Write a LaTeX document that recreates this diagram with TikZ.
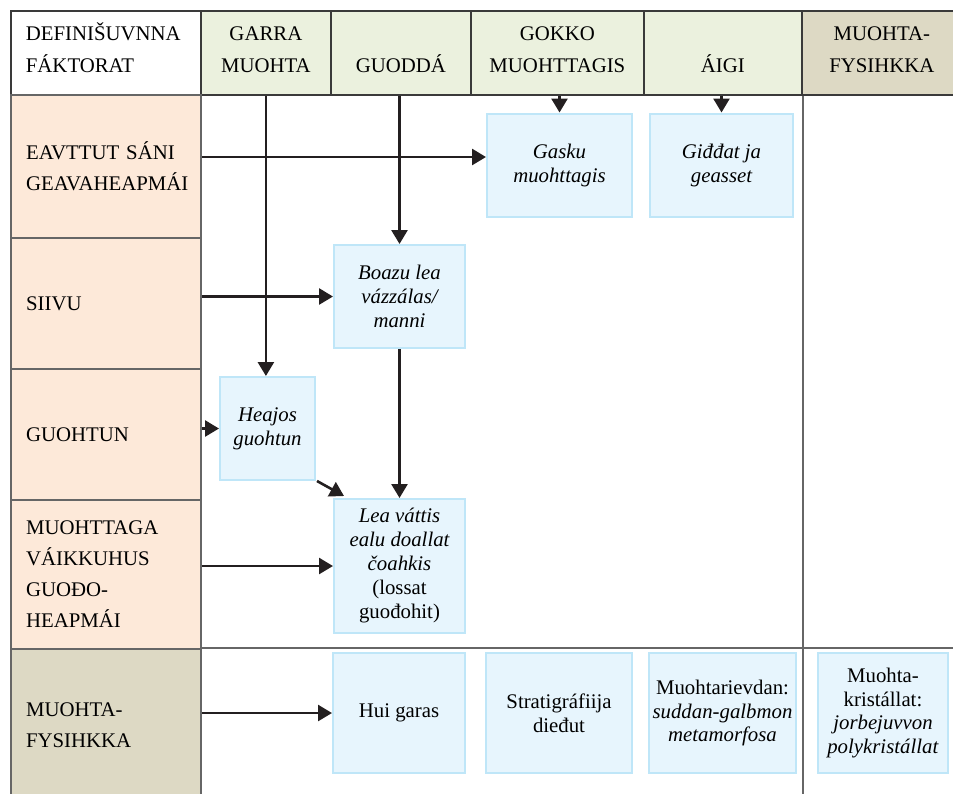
\documentclass[tikz,border=0pt]{standalone}
\usepackage{fontspec}
\setmainfont{Liberation Serif}
\usetikzlibrary{arrows.meta}
\definecolor{gridgray}{HTML}{666666}
\definecolor{headgray}{HTML}{3A3A3A}
\definecolor{peach}{HTML}{FDE9D9}
\definecolor{tan}{HTML}{DDD9C4}
\definecolor{headgreen}{HTML}{EBF1DE}
\definecolor{boxfill}{HTML}{E7F5FD}
\definecolor{boxline}{HTML}{BFE6F8}
\definecolor{arrowink}{HTML}{231F20}
\begin{document}
\begin{tikzpicture}[
        x=0.5pt,y=-0.5pt,
        cell/.style={draw=gridgray,line width=1.1pt,anchor=north west,inner sep=0pt},
        headcell/.style={cell,draw=headgray,line width=0.9pt,fill=headgreen,minimum height=42pt,align=center,
            text height=20pt,text depth=0pt,font=\fontsize{10.4}{16}\selectfont},
        rowcell/.style={cell,fill=peach,inner xsep=7.5pt,text width=80pt,align=left,
            font=\fontsize{10.4}{15.5}\selectfont},
        gridline/.style={draw=gridgray,line width=1.1pt},
        infobox/.style={draw=boxline,line width=1pt,fill=boxfill,align=center,inner sep=1pt,
            minimum height=51.5pt,font=\fontsize{10.4}{12}\selectfont\itshape},
        physbox/.style={infobox,minimum height=60pt,font=\fontsize{10.4}{11.8}\selectfont},
        arr/.style={draw=arrowink,line width=1.3pt,-{Triangle[length=7pt,width=8pt]}}
    ]
    \useasboundingbox (0,0) rectangle (953,793);

    \node [headcell,fill=white,minimum width=95pt,align=left,inner xsep=7.5pt,text width=80pt,
        text height=10pt,text depth=22pt] (hDef) at (10,10) {DEFINIŠUVNNA\\FÁKTORAT};
    \node [headcell,minimum width=65pt] (hGarra) at (200,10) {GARRA\\MUOHTA};
    \node [headcell,minimum width=70pt] (hGuodda) at (330,10) {GUODDÁ};
    \node [headcell,minimum width=86.5pt] (hGokko) at (470,10) {GOKKO\\MUOHTTAGIS};
    \node [headcell,minimum width=79pt] (hAigi) at (643,10) {ÁIGI};
    \node [headcell,fill=tan,minimum width=80pt] (hFys) at (801,10) {MUOHTA-\\FYSIHKKA};

    \node [rowcell,minimum height=71.5pt] (rEav) at (10,94) {EAVTTUT SÁNI\\GEAVAHEAPMÁI};
    \node [rowcell,minimum height=65.5pt] (rSiivu) at (10,237) {SIIVU};
    \node [rowcell,minimum height=65.5pt] (rGuoh) at (10,368) {GUOHTUN};
    \node [rowcell,minimum height=74.5pt] (rMuoh) at (10,499) {MUOHTTAGA\\VÁIKKUHUS\\GUOĐO-\\HEAPMÁI};
    \node [rowcell,fill=tan,minimum height=76pt] (rFys) at (10,648) {MUOHTA-\\FYSIHKKA};

    \draw [gridline] (hAigi.south east) -- (hAigi.south east |- rFys.south);
    \draw [gridline] (rFys.north east) -- (rFys.north east -| hFys.east);

    \node [infobox,minimum width=72.5pt] (gasku) at (559.5,165) {Gasku\\muohttagis};
    \node [infobox,minimum width=71.5pt] (giddat) at (721.5,165) {Giđđat ja\\geasset};
    \node [infobox,minimum width=65.5pt] (boazu) at (399.5,296.5) {Boazu lea\\vázzálas/\\manni};
    \node [infobox,minimum width=47.5pt] (heajos) at (267.5,428.5) {Heajos\\guohtun};
    \node [infobox,minimum width=65.5pt,minimum height=67pt] (lea) at (399.5,566)
        {Lea váttis\\ealu doallat\\čoahkis\\\textup{(lossat}\\\textup{guođohit)}};

    \node [physbox,minimum width=66pt] (hui) at (399,713) {Hui garas};
    \node [physbox,minimum width=73pt] (strat) at (559,713) {Stratigráfiija\\dieđut};
    \node [physbox,minimum width=73.5pt] (rievdan) at (722.5,713)
        {Muohtarievdan:\\\textit{suddan-galbmon}\\\textit{metamorfosa}};
    \node [physbox,minimum width=65pt] (kristall) at (883,713)
        {Muohta-\\kristállat:\\\textit{jorbejuvvon}\\\textit{polykristállat}};

    \draw [arr] (hGarra.south) -- (hGarra.south |- heajos.north);
    \draw [arr] (boazu.north |- hGuodda.south) -- (boazu.north);
    \draw [arr] (gasku.north |- hGokko.south) -- (gasku.north);
    \draw [arr] (giddat.north |- hAigi.south) -- (giddat.north);

    \draw [arr] ([yshift=4pt]gasku.west -| rEav.east) -- ([yshift=4pt]gasku.west);
    \draw [arr] (boazu.west -| rSiivu.east) -- (boazu.west);
    \draw [arr] (heajos.west -| rGuoh.east) -- (heajos.west);
    \draw [arr] (lea.west -| rMuoh.east) -- (lea.west);
    \draw [arr] (hui.west -| rFys.east) -- (hui.west);

    \draw [arr] (boazu.south) -- (lea.north);
    \draw [arr] ([xshift=0.5pt]heajos.south east) -- ([xshift=5.5pt,yshift=1pt]lea.north west);
\end{tikzpicture}
\end{document}
